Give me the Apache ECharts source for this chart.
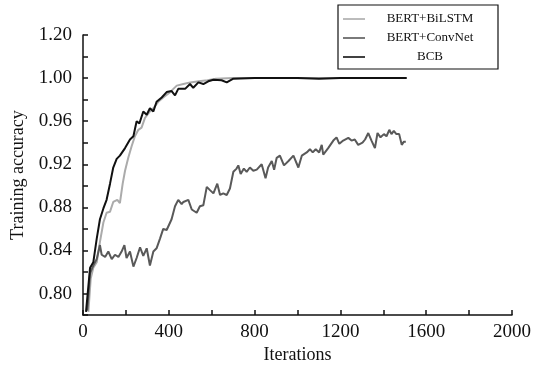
<!DOCTYPE html>
<html><head><meta charset="utf-8">
<script src="https://cdn.jsdelivr.net/npm/echarts@6/dist/echarts.min.js"></script>
<style>html,body{margin:0;padding:0;background:#fff}#c{width:535px;height:369px}</style>
</head><body><div id="c"></div>
<script>
const seriesNames = ['BERT+BiLSTM', 'BERT+ConvNet', 'BCB'];

const bilstmX = [25,36,48,64,79,95,110,126,141,160,172,185,196,211,227,242,258,273,289,312,328,351,374,406,437,468,500,540,580,620,700,800,900,1000,1100,1200,1300,1400,1509];
const bilstmY = [0.783,0.814,0.824,0.829,0.848,0.866,0.875,0.876,0.885,0.887,0.884,0.902,0.914,0.926,0.937,0.946,0.952,0.954,0.963,0.969,0.972,0.978,0.982,0.987,0.993,0.9945,0.996,0.997,0.998,0.9995,1.000,1.000,1.000,1.000,1.000,1.000,1.000,1.000,1.000];

const convX = [20,33,48,64,79,87,103,118,134,149,165,180,193,203,219,235,250,266,281,297,312,328,343,359,374,390,413,429,444,460,468,491,507,530,545,561,577,592,608,626,639,654,670,685,701,716,724,735,750,763,778,794,810,833,851,863,880,891,903,918,937,958,981,1004,1020,1043,1058,1071,1085,1101,1113,1120,1143,1167,1182,1195,1213,1237,1252,1267,1283,1303,1315,1330,1345,1361,1373,1387,1403,1415,1428,1438,1449,1461,1474,1486,1496,1505];
const convY = [0.784,0.819,0.826,0.832,0.845,0.836,0.834,0.839,0.832,0.836,0.834,0.839,0.845,0.833,0.839,0.825,0.833,0.843,0.835,0.842,0.826,0.839,0.842,0.851,0.860,0.859,0.869,0.881,0.887,0.883,0.885,0.887,0.878,0.875,0.881,0.882,0.899,0.896,0.893,0.902,0.8915,0.893,0.8915,0.8975,0.913,0.916,0.919,0.911,0.916,0.913,0.917,0.914,0.915,0.920,0.907,0.917,0.923,0.915,0.926,0.928,0.919,0.923,0.928,0.917,0.928,0.931,0.934,0.931,0.934,0.931,0.938,0.929,0.935,0.942,0.945,0.939,0.942,0.9445,0.942,0.943,0.938,0.940,0.943,0.949,0.942,0.935,0.949,0.945,0.948,0.946,0.952,0.948,0.951,0.948,0.948,0.938,0.941,0.941];

const bcbX = [14,33,48,64,79,95,110,126,141,157,172,196,219,235,250,263,281,297,312,328,343,367,390,413,429,444,452,476,499,514,538,561,584,608,646,670,701,800,900,1000,1100,1200,1300,1400,1509];
const bcbY = [0.783,0.824,0.829,0.851,0.869,0.879,0.887,0.902,0.917,0.925,0.928,0.935,0.943,0.946,0.960,0.958,0.969,0.966,0.972,0.969,0.978,0.982,0.987,0.988,0.984,0.990,0.9915,0.990,0.9945,0.991,0.996,0.9945,0.997,0.9985,0.998,0.996,0.9995,1.000,1.000,1.000,0.9995,1.000,1.000,1.000,1.000];

const yTickValues = [0.80, 0.84, 0.88, 0.92, 0.96, 1.00, 1.04];
const yTickLabels = ['0.80', '0.84', '0.88', '0.92', '0.96', '1.00', '1.20'];
const xLabelStep = 400;

const pairs = (xs, ys) => xs.map((x, i) => [x, ys[i]]);
const serif = '"Liberation Serif", "DejaVu Serif", serif';
const colors = ['#ababab', '#595959', '#111111'];

const chart = echarts.init(document.getElementById('c'));
chart.setOption({
  animation: false,
  grid: { left: 83, right: 23, top: 35, bottom: 48 },
  legend: {
    orient: 'vertical', left: 338, top: 5,
    padding: [6, 8, 4, 5],
    borderColor: '#111', borderWidth: 1.2,
    icon: 'rect', itemWidth: 22, itemHeight: 1.6, itemGap: 3,
    data: seriesNames,
    formatter: n => '{a|' + n + '}',
    textStyle: { fontFamily: serif, fontSize: 13, color: '#111', lineHeight: 16,
      rich: { a: { width: 120, align: 'center', fontFamily: serif, fontSize: 13, lineHeight: 16, color: '#111' } } }
  },
  xAxis: {
    type: 'value', min: 0, max: 2000, interval: 200,
    name: 'Iterations', nameLocation: 'middle', nameGap: 23,
    nameTextStyle: { fontFamily: serif, fontSize: 18, color: '#111' },
    axisLine: { lineStyle: { color: '#111', width: 1.5 } },
    axisTick: { inside: true, length: 5, lineStyle: { color: '#111', width: 1.5 } },
    axisLabel: { margin: 7, fontFamily: serif, fontSize: 19, color: '#111',
      formatter: v => (v % xLabelStep === 0 ? String(v) : '') },
    splitLine: { show: false }
  },
  yAxis: {
    type: 'value', min: 0.78, max: 1.04, interval: 0.02,
    name: 'Training accuracy', nameLocation: 'middle', nameGap: 56,
    nameTextStyle: { fontFamily: serif, fontSize: 18, color: '#111' },
    axisLine: { show: true, lineStyle: { color: '#111', width: 1.5 } },
    axisTick: { show: true, inside: true, length: 5, lineStyle: { color: '#111', width: 1.5 } },
    axisLabel: { margin: 11, fontFamily: serif, fontSize: 19, color: '#111',
      formatter: v => {
        const i = yTickValues.findIndex(t => Math.abs(t - v) < 1e-6);
        return i >= 0 ? yTickLabels[i] : '';
      } },
    splitLine: { show: false }
  },
  series: [
    { name: seriesNames[0], type: 'line', symbol: 'none', data: pairs(bilstmX, bilstmY),
      lineStyle: { color: colors[0], width: 2 }, itemStyle: { color: colors[0] }, z: 2 },
    { name: seriesNames[1], type: 'line', symbol: 'none', data: pairs(convX, convY),
      lineStyle: { color: colors[1], width: 2 }, itemStyle: { color: colors[1] }, z: 3 },
    { name: seriesNames[2], type: 'line', symbol: 'none', data: pairs(bcbX, bcbY),
      lineStyle: { color: colors[2], width: 2 }, itemStyle: { color: colors[2] }, z: 4 }
  ]
});
</script></body></html>
